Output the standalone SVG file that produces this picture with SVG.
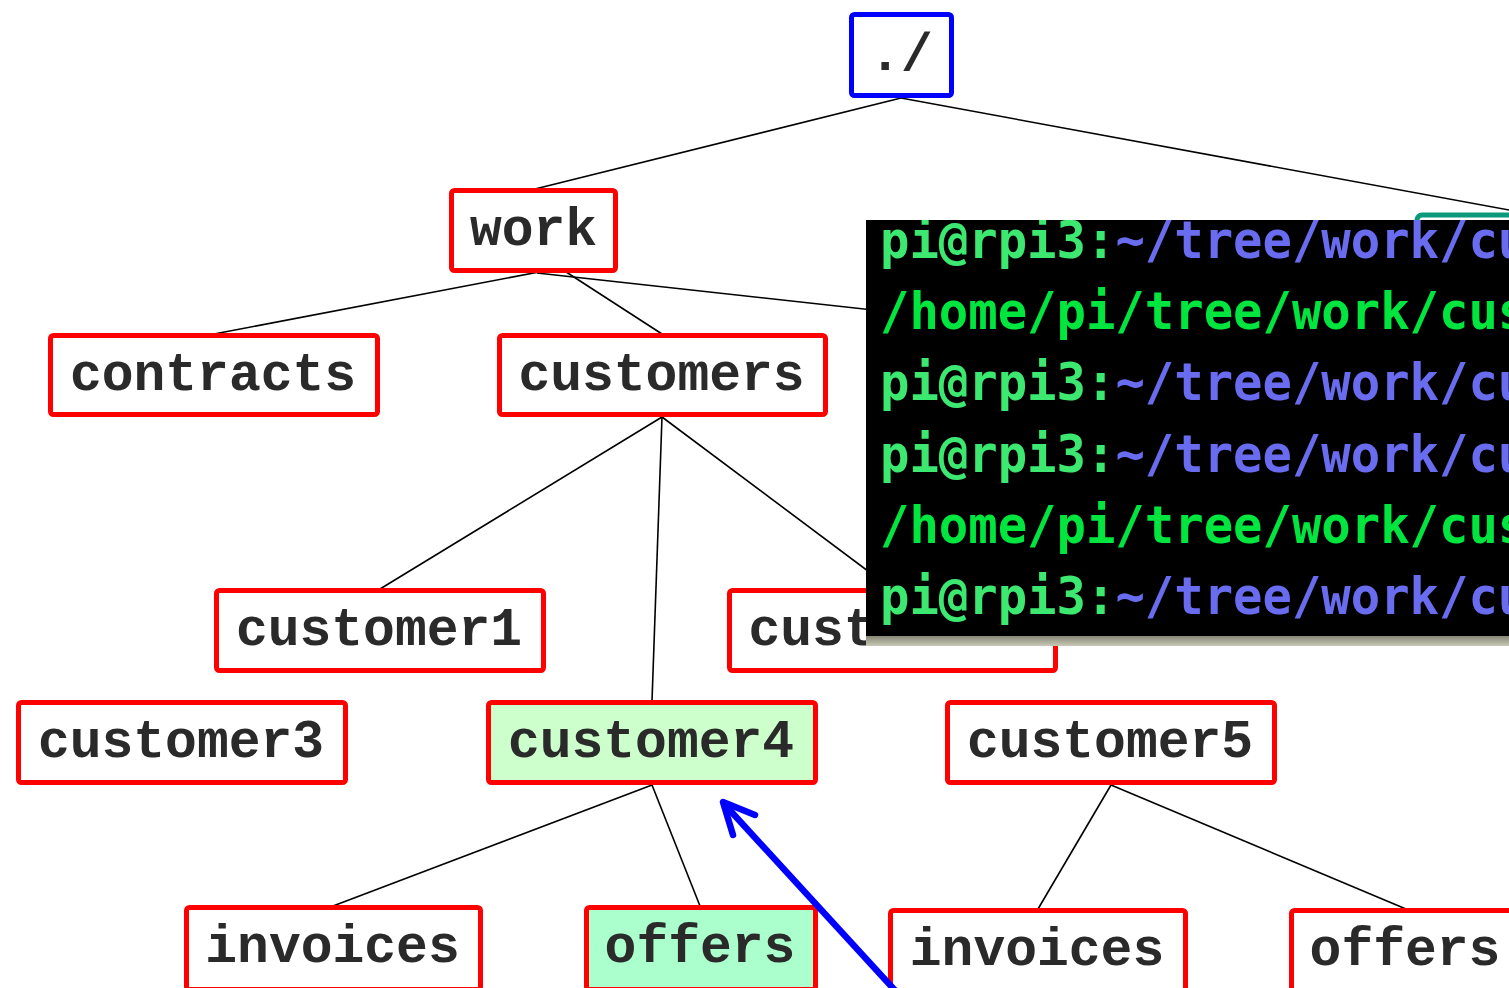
<svg xmlns="http://www.w3.org/2000/svg" width="1509" height="988" viewBox="0 0 1509 988">
<style>
.box{fill:#ffffff;stroke:#ff0000;stroke-width:5}
.lbl{font-family:"Liberation Mono","Courier New",monospace;font-weight:bold;font-size:53px;fill:#2a2a2a;text-anchor:middle}
.edge{stroke:#000000;stroke-width:1.6;fill:none}
.term{font-family:"DejaVu Sans Mono",monospace;font-size:52px;font-weight:bold}
.pr{fill:#3de870}
.pa{fill:#6a6cf0}
.out{fill:#00e63e}
</style>
<defs>
<clipPath id="tclip"><rect x="866" y="220" width="700" height="416"/></clipPath>
<linearGradient id="shadow" x1="0" y1="0" x2="0" y2="1">
<stop offset="0" stop-color="#7a7a68"/>
<stop offset="1" stop-color="#c8c8b8"/>
</linearGradient>
</defs>
<rect width="1509" height="988" fill="#ffffff"/>
<g id="connectors">
<line class="edge" x1="901" y1="98" x2="535" y2="189"/>
<line class="edge" x1="901" y1="98" x2="1536" y2="215"/>
<line class="edge" x1="560" y1="268" x2="214" y2="334"/>
<line class="edge" x1="560" y1="268" x2="662" y2="334"/>
<line class="edge" x1="537" y1="273" x2="1000" y2="324"/>
<line class="edge" x1="662" y1="417" x2="380" y2="589"/>
<line class="edge" x1="662" y1="417" x2="652" y2="701"/>
<line class="edge" x1="662" y1="417" x2="892" y2="589"/>
<line class="edge" x1="652" y1="785" x2="333" y2="906"/>
<line class="edge" x1="652" y1="785" x2="700" y2="906"/>
<line class="edge" x1="1111" y1="785" x2="1038" y2="909"/>
<line class="edge" x1="1111" y1="785" x2="1406" y2="909"/>
</g>
<g id="n-root"><rect class="box" style="stroke:#0000ff" x="851.5" y="14.5" width="100" height="81" rx="3"/><text class="lbl" x="901" y="70">./</text></g>
<g id="n-hidden"><rect x="1417" y="215" width="240" height="82" rx="5" fill="#ffffff" stroke="#0a9a7a" stroke-width="5"/></g>
<g id="n-work"><rect class="box" x="451.5" y="190.5" width="164" height="80" rx="3"/><text class="lbl" x="533.5" y="245">work</text></g>
<g id="n-contracts"><rect class="box" x="50.5" y="335.5" width="327" height="79" rx="3"/><text class="lbl" x="213" y="390">contracts</text></g>
<g id="n-customers"><rect class="box" x="499.5" y="335.5" width="326" height="79" rx="3"/><text class="lbl" x="661.5" y="390">customers</text></g>
<g id="n-customer1"><rect class="box" x="216.5" y="590.5" width="327" height="80" rx="3"/><text class="lbl" x="379" y="645">customer1</text></g>
<g id="n-customer2"><rect class="box" x="729.5" y="590.5" width="326" height="80" rx="3"/><text class="lbl" x="891.5" y="645">customer2</text></g>
<g id="n-customer3"><rect class="box" x="18.5" y="702.5" width="327" height="80" rx="3"/><text class="lbl" x="181" y="757">customer3</text></g>
<g id="n-customer4"><rect class="box" style="fill:#ccffcc" x="488.5" y="702.5" width="327" height="80" rx="3"/><text class="lbl" x="651" y="757">customer4</text></g>
<g id="n-customer5"><rect class="box" x="947.5" y="702.5" width="327" height="80" rx="3"/><text class="lbl" x="1110" y="757">customer5</text></g>
<g id="n-invoices4"><rect class="box" x="186.5" y="907.5" width="294" height="82" rx="3"/><text class="lbl" x="332.5" y="962">invoices</text></g>
<g id="n-offers4"><rect class="box" style="fill:#aaffcc" x="586.5" y="907.5" width="229" height="82" rx="3"/><text class="lbl" x="700" y="962">offers</text></g>
<g id="n-invoices5"><rect class="box" x="890.5" y="910.5" width="295" height="82" rx="3"/><text class="lbl" x="1037" y="965">invoices</text></g>
<g id="n-offers5"><rect class="box" x="1291.5" y="910.5" width="229" height="82" rx="3"/><text class="lbl" x="1405" y="965">offers</text></g>
<g id="terminal">
<rect x="866" y="634" width="700" height="12" fill="url(#shadow)"/>
<rect x="866" y="220" width="700" height="416" fill="#000000"/>
<g clip-path="url(#tclip)">
<g class="term" transform="translate(880,0) scale(0.94,1)">
<text x="0" y="258"><tspan class="pr">pi@rpi3:</tspan><tspan class="pa">~/tree/work/cu</tspan></text>
<text x="0" y="329" class="out">/home/pi/tree/work/cus</text>
<text x="0" y="400"><tspan class="pr">pi@rpi3:</tspan><tspan class="pa">~/tree/work/cu</tspan></text>
<text x="0" y="472"><tspan class="pr">pi@rpi3:</tspan><tspan class="pa">~/tree/work/cu</tspan></text>
<text x="0" y="543" class="out">/home/pi/tree/work/cus</text>
<text x="0" y="614"><tspan class="pr">pi@rpi3:</tspan><tspan class="pa">~/tree/work/cu</tspan></text>
</g>
</g>
</g>
<g id="pointer" stroke="#0000ff" stroke-width="6.5" stroke-linecap="round" stroke-linejoin="round" fill="none">
<line x1="902" y1="998" x2="726" y2="806"/>
<polyline points="755,815 723,802 733,835"/>
</g>
</svg>
